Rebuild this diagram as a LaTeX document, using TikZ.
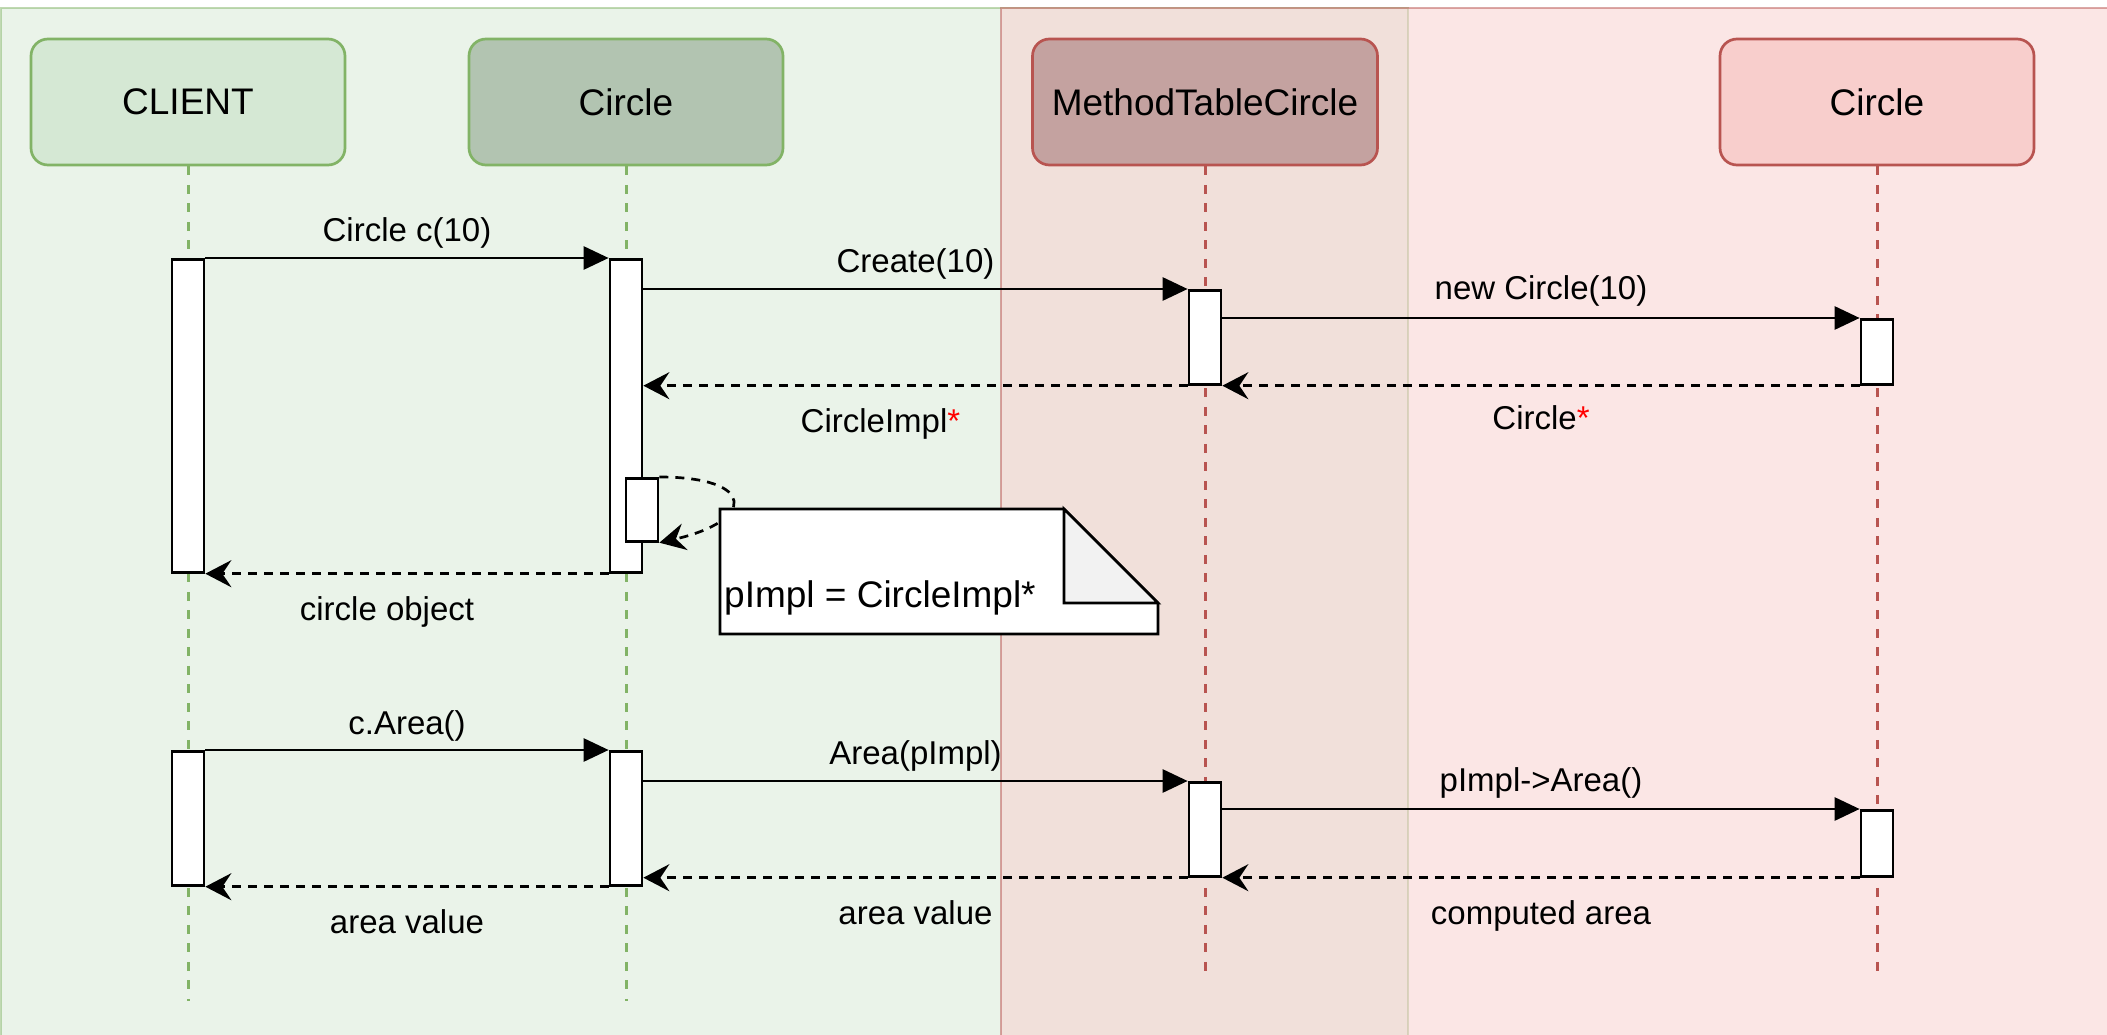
\documentclass[tikz,border=0pt]{standalone}
\usepackage{fontspec}
\setmainfont{Liberation Sans}
\usetikzlibrary{arrows.meta}
\definecolor{grnfill}{HTML}{D5E8D4}
\definecolor{grnline}{HTML}{82B366}
\definecolor{grndark}{HTML}{B2C4B1}
\definecolor{redfill}{HTML}{F8CECC}
\definecolor{redline}{HTML}{B85450}
\definecolor{reddark}{HTML}{C4A2A0}
\definecolor{foldgray}{HTML}{F2F2F2}
\begin{document}
\begin{tikzpicture}[x=1pt,y=-1pt,
    head/.style={rounded corners=17pt,line width=2.7pt,minimum width=314pt,
      minimum height=126pt,font=\fontsize{37}{44}\selectfont},
    life/.style={line width=3pt,dash pattern=on 9pt off 9.5pt},
    bar/.style={draw,fill=white,line width=2.7pt,minimum width=32pt,
      inner sep=0pt,anchor=north},
    call/.style={line width=2.7pt,-{Triangle[length=25pt,width=23pt]}},
    ret/.style={line width=2.7pt,dash pattern=on 9pt off 7pt,
      -{Stealth[length=26pt,width=27pt,inset=9pt]}},
    msg/.style={midway,inner sep=0pt,text height=23pt,text depth=0pt,
      font=\fontsize{33}{40}\selectfont}]
  \useasboundingbox (0,0) rectangle (2107,1035);

  \begin{scope}[opacity=.5,line width=2.7pt]
    \draw[draw=grnline,fill=grnfill] (1,8) rectangle (1408,1045);
    \draw[draw=redline,fill=redfill] (1001,8) rectangle (2120,1045);
  \end{scope}

  \node[head,draw=grnline,fill=grnfill] (client) at (188,102) {CLIENT};
  \node[head,draw=grnline,fill=grndark] (circle) at (626,102) {Circle};
  \node[head,draw=redline,fill=reddark,minimum width=345pt] (table) at (1205,102) {MethodTableCircle};
  \node[head,draw=redline,fill=redfill] (impl) at (1877,102) {Circle};

  \draw[life,grnline] (client.south) -- ++(0,835);
  \draw[life,grnline] (circle.south) -- ++(0,835);
  \draw[life,redline] (table.south) -- ++(0,813);
  \draw[life,redline] (impl.south) -- ++(0,813);

  \node[bar,minimum height=313pt] (cl1) at (188,258) {};
  \node[bar,minimum height=313pt] (ci1) at (626,258) {};
  \node[bar,minimum height=94pt] (mt1) at (1205,289) {};
  \node[bar,minimum height=65pt] (cr1) at (1877,318) {};
  \node[bar,minimum height=63pt] (self) at (642,477) {};
  \node[bar,minimum height=134pt] (cl2) at (188,750) {};
  \node[bar,minimum height=134pt] (ci2) at (626,750) {};
  \node[bar,minimum height=94pt] (mt2) at (1205,781) {};
  \node[bar,minimum height=66pt] (cr2) at (1877,809) {};

  \draw[call] (cl1.north east) -- node[msg,yshift=28pt] {Circle c(10)} (ci1.north west);
  \draw[call] (ci1.east |- mt1.north) -- node[msg,yshift=28pt] {Create(10)} (mt1.north west);
  \draw[call] (mt1.east |- cr1.north) -- node[msg,yshift=30pt] {new Circle(10)} (cr1.north west);
  \draw[ret] (cr1.south west) -- node[msg,yshift=-32pt] {Circle\textcolor{red}{*}} (mt1.south east);
  \draw[ret] (mt1.south west) -- node[msg,yshift=-35pt,xshift=-35pt] {CircleImpl\textcolor{red}{*}} (ci1.east |- mt1.south);
  \draw[ret] (self.north east) .. controls +(98,0) and +(96,-22) .. (self.south east);
  \draw[ret] (ci1.south west) -- node[msg,yshift=-35pt,xshift=-20pt] {circle object} (cl1.south east);

  \draw[call] (cl2.north east) -- node[msg,yshift=27pt] {c.Area()} (ci2.north west);
  \draw[call] (ci2.east |- mt2.north) -- node[msg,yshift=28pt] {Area(pImpl)} (mt2.north west);
  \draw[call] (mt2.east |- cr2.north) -- node[msg,yshift=29pt] {pImpl->Area()} (cr2.north west);
  \draw[ret] (cr2.south west) -- node[msg,yshift=-35pt] {computed area} (mt2.south east);
  \draw[ret] (mt2.south west) -- node[msg,yshift=-35pt] {area value} (ci2.east |- mt2.south);
  \draw[ret] (ci2.south west) -- node[msg,yshift=-35pt] {area value} (cl2.south east);

  \filldraw[fill=white,line width=2.7pt] (720,509) -- (1064,509) -- (1158,603) -- (1158,634) -- (720,634) -- cycle;
  \filldraw[fill=foldgray,line width=2.7pt] (1064,509) -- (1064,603) -- (1158,603) -- cycle;
  \node[anchor=base west,inner sep=0pt,font=\fontsize{37}{44}\selectfont] (note) at (724,607) {pImpl = CircleImpl*};
\end{tikzpicture}
\end{document}
